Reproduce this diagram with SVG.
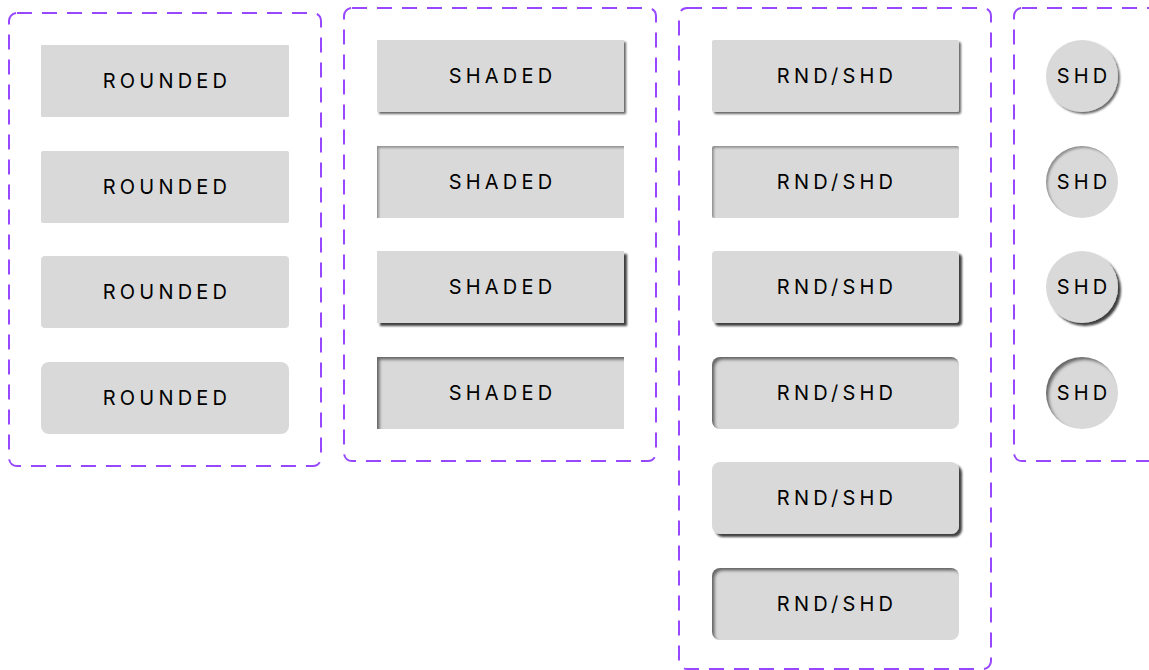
<svg xmlns="http://www.w3.org/2000/svg" width="1149" height="670" viewBox="0 0 1149 670">
<style>
.set{fill:none;stroke:#9747ff;stroke-width:2;stroke-dasharray:15 10}
.box{fill:#d9d9d9}
.lbl{font-family:Inter,"Liberation Sans",sans-serif;font-size:20px;letter-spacing:4.2px;fill:#000;text-anchor:middle;dominant-baseline:central}
</style>
<defs>
<filter id="drop1" x="-10%" y="-20%" width="130%" height="150%">
<feDropShadow dx="2" dy="2" stdDeviation="1" flood-color="#000" flood-opacity="0.6"/>
</filter>
<filter id="drop2" x="-10%" y="-20%" width="130%" height="150%">
<feDropShadow dx="3" dy="3" stdDeviation="1.3" flood-color="#000" flood-opacity="0.75"/>
</filter>
<filter id="in1" x="-10%" y="-20%" width="120%" height="140%">
<feComponentTransfer in="SourceAlpha" result="inv"><feFuncA type="table" tableValues="1 0"/></feComponentTransfer>
<feGaussianBlur in="inv" stdDeviation="1.2"/>
<feOffset dx="2" dy="2" result="off"/>
<feFlood flood-color="#000" flood-opacity="0.6"/>
<feComposite operator="in" in2="off"/>
<feComposite operator="in" in2="SourceAlpha" result="sh"/>
<feMerge><feMergeNode in="SourceGraphic"/><feMergeNode in="sh"/></feMerge>
</filter>
<filter id="in2" x="-10%" y="-20%" width="120%" height="140%">
<feComponentTransfer in="SourceAlpha" result="inv"><feFuncA type="table" tableValues="1 0"/></feComponentTransfer>
<feGaussianBlur in="inv" stdDeviation="1.5"/>
<feOffset dx="3" dy="3" result="off"/>
<feFlood flood-color="#000" flood-opacity="0.8"/>
<feComposite operator="in" in2="off"/>
<feComposite operator="in" in2="SourceAlpha" result="sh"/>
<feMerge><feMergeNode in="SourceGraphic"/><feMergeNode in="sh"/></feMerge>
</filter>
</defs>

<g id="set-rounded">
<rect class="set" x="9" y="13" width="312" height="453" rx="8"/>
<g id="rounded-1"><rect class="box" x="41" y="45" width="248" height="72" rx="1"/><text class="lbl" x="167" y="81">ROUNDED</text></g>
<g id="rounded-2"><rect class="box" x="41" y="151" width="248" height="72" rx="2"/><text class="lbl" x="167" y="187">ROUNDED</text></g>
<g id="rounded-3"><rect class="box" x="41" y="256" width="248" height="72" rx="4"/><text class="lbl" x="167" y="292">ROUNDED</text></g>
<g id="rounded-4"><rect class="box" x="41" y="362" width="248" height="72" rx="8"/><text class="lbl" x="167" y="398">ROUNDED</text></g>
</g>

<g id="set-shaded">
<rect class="set" x="344" y="8" width="312" height="453" rx="8"/>
<g id="shaded-1"><rect class="box" x="377" y="40" width="247" height="72" filter="url(#drop1)"/><text class="lbl" x="502.5" y="76">SHADED</text></g>
<g id="shaded-2"><rect class="box" x="377" y="146" width="247" height="72" filter="url(#in1)"/><text class="lbl" x="502.5" y="182">SHADED</text></g>
<g id="shaded-3"><rect class="box" x="377" y="251" width="247" height="72" filter="url(#drop2)"/><text class="lbl" x="502.5" y="287">SHADED</text></g>
<g id="shaded-4"><rect class="box" x="377" y="357" width="247" height="72" filter="url(#in2)"/><text class="lbl" x="502.5" y="393">SHADED</text></g>
</g>

<g id="set-rndshd">
<rect class="set" x="679" y="8" width="312" height="661" rx="8"/>
<g id="rndshd-1"><rect class="box" x="712" y="40" width="247" height="72" rx="2" filter="url(#drop1)"/><text class="lbl" x="837" y="76">RND/SHD</text></g>
<g id="rndshd-2"><rect class="box" x="712" y="146" width="247" height="72" rx="2" filter="url(#in1)"/><text class="lbl" x="837" y="182">RND/SHD</text></g>
<g id="rndshd-3"><rect class="box" x="712" y="251" width="247" height="72" rx="4" filter="url(#drop2)"/><text class="lbl" x="837" y="287">RND/SHD</text></g>
<g id="rndshd-4"><rect class="box" x="712" y="357" width="247" height="72" rx="8" filter="url(#in2)"/><text class="lbl" x="837" y="393">RND/SHD</text></g>
<g id="rndshd-5"><rect class="box" x="712" y="462" width="247" height="72" rx="8" filter="url(#drop2)"/><text class="lbl" x="837" y="498">RND/SHD</text></g>
<g id="rndshd-6"><rect class="box" x="712" y="568" width="247" height="72" rx="8" filter="url(#in2)"/><text class="lbl" x="837" y="604">RND/SHD</text></g>
</g>

<g id="set-circle">
<rect class="set" x="1014" y="8" width="312" height="453" rx="8"/>
<g id="circle-1"><circle class="box" cx="1082" cy="76" r="36" filter="url(#drop1)"/><text class="lbl" x="1084" y="76">SHD</text></g>
<g id="circle-2"><circle class="box" cx="1082" cy="182" r="36" filter="url(#in1)"/><text class="lbl" x="1084" y="182">SHD</text></g>
<g id="circle-3"><circle class="box" cx="1082" cy="287" r="36" filter="url(#drop2)"/><text class="lbl" x="1084" y="287">SHD</text></g>
<g id="circle-4"><circle class="box" cx="1082" cy="393" r="36" filter="url(#in2)"/><text class="lbl" x="1084" y="393">SHD</text></g>
</g>

<g id="connectors"></g>
</svg>
